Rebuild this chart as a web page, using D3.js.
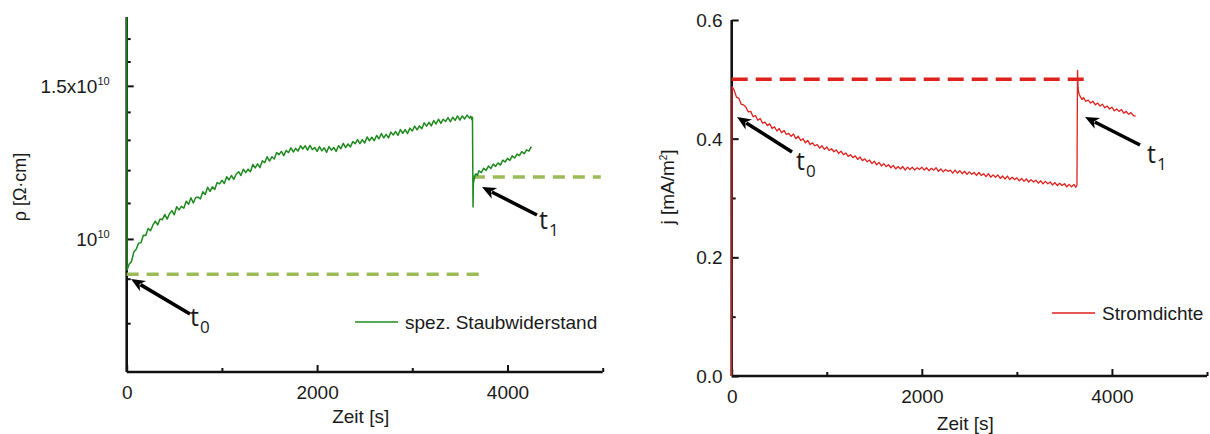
<!DOCTYPE html>
<html><head><meta charset="utf-8">
<script src="https://cdn.jsdelivr.net/npm/d3@7"></script>
<style>
body{margin:0;background:#fff;}
svg text{font-family:"Liberation Sans",Arial,sans-serif;fill:#1a1a1a;}
.ann{font-family:"Open Sans","Noto Sans",sans-serif;}
</style></head>
<body>
<svg id="c" width="1210" height="434"></svg>
<script>
// ---------- data ----------
const timeTicks = [0, 2000, 4000];
const timeMinorTicks = [1000, 3000, 5000];
const rhoMajorTicks = [1.0, 1.5];           // x 10^10 Ohm*cm
const rhoMinorTicks = [0.8, 0.9, 1.1, 1.2, 1.3, 1.4, 1.6, 1.7];
const jMajorTicks = [0.0, 0.2, 0.4, 0.6];
const jMinorTicks = [0.1, 0.3, 0.5];

// specific dust resistance [x 10^10 Ohm*cm] vs time [s]
const rhoSeries = [
 [0,2.2],[4,0.921],[25,0.935],[50,0.942],[75,0.966],[100,0.973],[125,0.989],[150,0.990],[175,1.010],
 [200,1.009],[225,1.028],[250,1.022],[275,1.037],[300,1.048],[325,1.038],[350,1.054],[375,1.052],
 [400,1.067],[425,1.054],[450,1.069],[475,1.078],[500,1.066],[525,1.089],[550,1.080],[575,1.090],
 [600,1.085],[625,1.105],[650,1.096],[675,1.115],[700,1.100],[725,1.116],[750,1.117],[775,1.112],
 [800,1.133],[825,1.125],[850,1.147],[875,1.134],[900,1.148],[925,1.140],[950,1.161],[975,1.157],
 [1000,1.168],[1025,1.158],[1050,1.179],[1075,1.169],[1100,1.183],[1125,1.171],[1150,1.187],[1175,1.195],
 [1200,1.183],[1225,1.203],[1250,1.192],[1275,1.203],[1300,1.195],[1325,1.218],[1350,1.207],[1375,1.220],
 [1400,1.208],[1425,1.230],[1450,1.224],[1475,1.243],[1500,1.229],[1525,1.243],[1550,1.236],[1575,1.257],
 [1600,1.250],[1625,1.261],[1650,1.247],[1675,1.264],[1700,1.257],[1725,1.273],[1750,1.259],[1775,1.271],
 [1800,1.262],[1825,1.280],[1850,1.269],[1875,1.280],[1900,1.265],[1925,1.281],[1950,1.267],[1975,1.274],
 [2000,1.261],[2025,1.277],[2050,1.263],[2075,1.273],[2100,1.258],[2125,1.277],[2150,1.265],[2175,1.274],
 [2200,1.261],[2225,1.280],[2250,1.270],[2275,1.288],[2300,1.274],[2325,1.286],[2350,1.276],[2375,1.294],
 [2400,1.287],[2425,1.301],[2450,1.287],[2475,1.301],[2500,1.289],[2525,1.310],[2550,1.297],[2575,1.309],
 [2600,1.297],[2625,1.315],[2650,1.304],[2675,1.322],[2700,1.307],[2725,1.319],[2750,1.307],[2775,1.327],
 [2800,1.317],[2825,1.329],[2850,1.316],[2875,1.336],[2900,1.323],[2925,1.336],[2950,1.322],[2975,1.341],
 [3000,1.331],[3025,1.348],[3050,1.335],[3075,1.349],[3100,1.339],[3125,1.360],[3150,1.348],[3175,1.362],
 [3200,1.349],[3225,1.368],[3250,1.356],[3275,1.373],[3300,1.358],[3325,1.373],[3350,1.365],[3375,1.379],
 [3400,1.364],[3425,1.380],[3450,1.369],[3475,1.385],[3500,1.370],[3525,1.385],[3550,1.374],[3575,1.388],
 [3600,1.377],[3615,1.384],[3625,1.372],[3632,1.380],[3638,1.088],[3642,1.160],[3650,1.172],[3660,1.185],
 [3670,1.188],[3685,1.183],[3700,1.198],[3725,1.192],[3750,1.206],[3775,1.199],[3800,1.213],[3825,1.205],
 [3850,1.219],[3875,1.212],[3900,1.223],[3925,1.216],[3950,1.232],[3975,1.226],[4000,1.238],[4025,1.231],
 [4050,1.246],[4075,1.239],[4100,1.252],[4125,1.247],[4150,1.260],[4175,1.253],[4200,1.266],[4225,1.262],
 [4250,1.277]
];
const rhoRef1 = [[0,0.911],[3710,0.911]];
const rhoRef2 = [[3636,1.178],[4980,1.178]];

// current density [mA/m^2] vs time [s]
const jSeries = [
 [0,0],[4,0.488],[25,0.482],[50,0.470],[75,0.468],[100,0.458],[125,0.457],[150,0.453],[175,0.445],
 [200,0.446],[225,0.437],[250,0.439],[275,0.431],[300,0.434],[325,0.426],[350,0.428],[375,0.422],
 [400,0.425],[425,0.417],[450,0.420],[475,0.413],[500,0.417],[525,0.410],[550,0.414],[575,0.407],
 [600,0.409],[625,0.404],[650,0.408],[675,0.400],[700,0.404],[725,0.397],[750,0.400],[775,0.393],
 [800,0.397],[825,0.390],[850,0.393],[875,0.388],[900,0.390],[925,0.384],[950,0.388],[975,0.382],
 [1000,0.386],[1025,0.380],[1050,0.383],[1075,0.378],[1100,0.381],[1125,0.375],[1150,0.379],[1175,0.373],
 [1200,0.376],[1225,0.370],[1250,0.373],[1275,0.368],[1300,0.371],[1325,0.365],[1350,0.369],[1375,0.363],
 [1400,0.366],[1425,0.361],[1450,0.364],[1475,0.358],[1500,0.362],[1525,0.356],[1550,0.360],[1575,0.354],
 [1600,0.358],[1625,0.353],[1650,0.356],[1675,0.351],[1700,0.355],[1725,0.349],[1750,0.353],[1775,0.349],
 [1800,0.353],[1825,0.347],[1850,0.352],[1875,0.348],[1900,0.352],[1925,0.347],[1950,0.351],[1975,0.348],
 [2000,0.352],[2025,0.347],[2050,0.351],[2075,0.346],[2100,0.350],[2125,0.347],[2150,0.351],[2175,0.345],
 [2200,0.349],[2225,0.344],[2250,0.348],[2275,0.345],[2300,0.347],[2325,0.342],[2350,0.347],[2375,0.342],
 [2400,0.346],[2425,0.341],[2450,0.345],[2475,0.340],[2500,0.344],[2525,0.340],[2550,0.343],[2575,0.338],
 [2600,0.343],[2625,0.338],[2650,0.341],[2675,0.336],[2700,0.341],[2725,0.335],[2750,0.339],[2775,0.335],
 [2800,0.339],[2825,0.333],[2850,0.337],[2875,0.332],[2900,0.337],[2925,0.331],[2950,0.335],[2975,0.331],
 [3000,0.334],[3025,0.329],[3050,0.333],[3075,0.328],[3100,0.332],[3125,0.327],[3150,0.331],[3175,0.327],
 [3200,0.330],[3225,0.325],[3250,0.329],[3275,0.324],[3300,0.328],[3325,0.324],[3350,0.327],[3375,0.322],
 [3400,0.326],[3425,0.321],[3450,0.325],[3475,0.321],[3500,0.324],[3525,0.319],[3550,0.323],[3575,0.319],
 [3600,0.323],[3620,0.318],[3632,0.322],[3638,0.515],[3645,0.482],[3655,0.475],[3670,0.470],[3685,0.466],
 [3700,0.469],[3725,0.463],[3750,0.465],[3775,0.460],[3800,0.463],[3825,0.457],[3850,0.460],[3875,0.455],
 [3900,0.458],[3925,0.452],[3950,0.455],[3975,0.450],[4000,0.453],[4025,0.447],[4050,0.450],[4075,0.446],
 [4100,0.449],[4125,0.443],[4150,0.446],[4175,0.441],[4200,0.444],[4225,0.439],[4250,0.438]
];
const jRef = [[0,0.5],[3710,0.5]];

// ---------- drawing ----------
const svg = d3.select("#c");
const FS = 19;

function drawPanel(o){
  const g = svg.append("g");
  const x = d3.scaleLinear().domain([0,5000]).range([o.x0,o.x1]);
  const y = o.y;
  const cid = "clip"+o.id;
  svg.append("clipPath").attr("id",cid).append("rect")
    .attr("x",o.x0-2).attr("y",y.range()[1]).attr("width",o.x1-o.x0+4).attr("height",y.range()[0]-y.range()[1]);
  // x axis
  const ax = g.append("g").attr("transform",`translate(0,${y.range()[0]})`)
    .call(d3.axisBottom(x).tickValues(timeTicks).tickSize(-7).tickPadding(14).tickFormat(d3.format("d")));
  g.append("g").attr("transform",`translate(0,${y.range()[0]})`)
    .call(d3.axisBottom(x).tickValues(timeMinorTicks).tickSize(-4).tickFormat(""))
    .select(".domain").remove();
  ax.select(".domain").attr("stroke","#111").attr("stroke-width",2.6).attr("d",`M${o.x0},0H${o.x1}`);
  ax.selectAll(".tick text").attr("font-size",FS).attr("dy",o.xdy);
  // y axis
  const ay = g.append("g").attr("transform",`translate(${o.x0},0)`)
    .call(d3.axisLeft(y).tickValues(o.major).tickSize(-7).tickFormat(""));
  g.append("g").attr("transform",`translate(${o.x0},0)`)
    .call(d3.axisLeft(y).tickValues(o.minor).tickSize(-4).tickFormat(""))
    .select(".domain").remove();
  ay.select(".domain").attr("stroke","#111").attr("stroke-width",2.6)
    .attr("d",`M0,${y.range()[1]}V${y.range()[0]}`);
  g.selectAll(".tick line").attr("stroke","#111").attr("stroke-width",2);
  o.major.forEach(v=>{
    const t = g.append("text").attr("x",o.x0-o.ypad).attr("y",y(v)).attr("dy","0.36em")
      .attr("text-anchor","end").attr("font-size",FS);
    o.fmt(t,v);
  });
  // reference dashed lines
  const line = d3.line().x(d=>x(d[0])).y(d=>y(d[1]));
  o.refs.forEach(r=>{
    g.append("path").datum(r).attr("d",line).attr("fill","none")
      .attr("stroke",o.refColor).attr("stroke-width",3.5).attr("stroke-dasharray",o.dash);
  });
  // series
  g.append("path").datum(o.series).attr("clip-path",`url(#${cid})`).attr("d",line).attr("fill","none")
    .attr("stroke",o.color).attr("stroke-width",o.lw).attr("stroke-linejoin","round");
  // axis titles
  g.append("text").attr("x",(o.x0+o.x1)/2 - 4).attr("y",o.xTitleY).attr("text-anchor","middle")
    .attr("font-size",FS).text("Zeit [s]");
  const yt = g.append("text").attr("transform",`translate(${o.yTitleX},${o.yTitleY}) rotate(-90)`)
    .attr("text-anchor","middle").attr("font-size",o.yTitleFS);
  o.ytitle(yt);
  // legend
  g.append("line").attr("x1",o.leg[0]).attr("x2",o.leg[0]+43).attr("y1",o.leg[1]).attr("y2",o.leg[1])
    .attr("stroke",o.color).attr("stroke-width",1.6);
  g.append("text").attr("x",o.leg[0]+50).attr("y",o.leg[1]).attr("dy","0.35em").attr("font-size",FS)
    .text(o.legText);
  // annotations
  o.arrows.forEach(a=>{
    const [x1,y1,x2,y2,sub,tx,ty] = a;
    const ang = Math.atan2(y2-y1,x2-x1);
    const L=14, W=6;
    const bx = x2-L*Math.cos(ang), by = y2-L*Math.sin(ang);
    g.append("line").attr("x1",x1).attr("y1",y1).attr("x2",bx+3*Math.cos(ang)).attr("y2",by+3*Math.sin(ang))
      .attr("stroke","#000").attr("stroke-width",3.6);
    g.append("path").attr("d",`M${x2},${y2}L${bx+W*Math.sin(ang)},${by-W*Math.cos(ang)}L${bx+4*Math.cos(ang)},${by+4*Math.sin(ang)}L${bx-W*Math.sin(ang)},${by+W*Math.cos(ang)}Z`)
      .attr("fill","#000");
    const t = g.append("text").attr("class","ann").attr("x",tx).attr("y",ty).attr("font-size",25);
    t.append("tspan").text("t");
    t.append("tspan").attr("font-size",17).attr("dy",7).attr("dx",1).text(sub);
  });
}

const sup = (t,base,exp)=>{ t.append("tspan").text(base); t.append("tspan").attr("font-size",11).attr("dy",-8).text(exp); };

drawPanel({
  id:"L", x0:126.7, x1:602.7,
  y: d3.scaleLog().domain([0.703,1.8]).range([372,17]),
  major: rhoMajorTicks, minor: rhoMinorTicks, ypad:17, xdy:"0.71em",
  fmt:(t,v)=>{ if(v===1) sup(t,"10","10"); else sup(t,"1.5x10","10"); },
  refs:[rhoRef1,rhoRef2], refColor:"#9bbb59", dash:"12,8",
  series: rhoSeries, color:"#1e8a1e", lw:1.5,
  xTitleY:423, yTitleX:26, yTitleY:187, yTitleFS:18,
  ytitle:t=>t.text("ρ [Ω·cm]"),
  leg:[355,322], legText:"spez. Staubwiderstand",
  arrows:[[190,314,131,279,"0",190,326],[537,215,482,187,"1",539,229]]
});

drawPanel({
  id:"R", x0:731.7, x1:1207,
  y: d3.scaleLinear().domain([0,0.6]).range([376,20]),
  major: jMajorTicks, minor: jMinorTicks, ypad:9, xdy:"0.71em",
  fmt:(t,v)=>t.text(d3.format(".1f")(v)),
  refs:[jRef], refColor:"#e0201c", dash:"16,8",
  series: jSeries, color:"#e0201c", lw:1.3,
  xTitleY:430, yTitleX:674, yTitleY:187, yTitleFS:19,
  ytitle:t=>{ t.append("tspan").text("j [mA/m"); t.append("tspan").attr("font-size",10).attr("dy",-7).text("2"); t.append("tspan").attr("dy",7).text("]"); },
  leg:[1052,313], legText:"Stromdichte",
  arrows:[[792,152,737,117,"0",796,170],[1140,145,1085,117,"1",1147,163]]
});
</script>
</body></html>
